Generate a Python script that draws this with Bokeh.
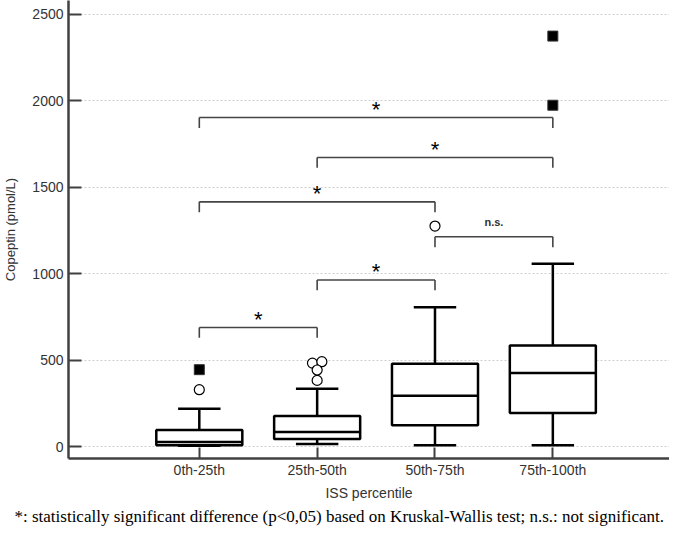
from bokeh.plotting import figure
from bokeh.models import Range1d, FixedTicker, ColumnDataSource, Title
from bokeh.core.properties import value
from bokeh.embed import file_html
from bokeh.resources import INLINE

# ---- data ----
categories = ["0th-25th", "25th-50th", "50th-75th", "75th-100th"]
lower_whisker = [5, 15, 8, 8]
q1 = [8, 44, 123, 194]
median = [27, 85, 294, 425]
q3 = [96, 177, 479, 585]
upper_whisker = [219, 335, 806, 1058]

circle_cat = [1, 2, 2, 2, 2, 3]
circle_jitter = [0.0, -0.04, 0.04, 0.0, 0.0, 0.0]
circle_val = [329, 483, 491, 443, 383, 1276]

square_cat = [1, 4, 4]
square_val = [445, 1975, 2375]

bracket_from = [1, 2, 3, 1, 2, 1]
bracket_to = [2, 3, 4, 3, 4, 4]
bracket_y = [689, 964, 1214, 1416, 1673, 1904]
bracket_label = ["*", "*", "n.s.", "*", "*", "*"]

y_ticks = [0, 500, 1000, 1500, 2000, 2500]

caption = ("*: statistically significant difference (p<0,05) based on "
           "Kruskal-Wallis test; n.s.: not significant.")

# ---- styles ----
BOX_W = 0.73
CAP_W = 0.36
LEG = 60
FONT = "Liberation Sans"
AX = "#404040"

pos = list(range(1, len(categories) + 1))

p = figure(width=669, height=526, x_range=Range1d(-0.11, 4.99),
           y_range=Range1d(-69, 2581), output_backend="svg",
           toolbar_location=None, min_border_left=68, min_border_right=0,
           min_border_top=0, min_border_bottom=67)
p.title.visible = False
p.outline_line_color = None
p.background_fill_color = "white"

# grid
p.xgrid.grid_line_color = None
p.ygrid.grid_line_color = "#cfcfcf"
p.ygrid.grid_line_dash = "2 2"
p.ygrid.grid_line_width = 1

# axes
for ax in (p.xaxis[0], p.yaxis[0]):
    ax.axis_line_color = AX
    ax.axis_line_width = 2.5
    ax.major_tick_line_color = AX
    ax.major_tick_line_width = 2
    ax.major_tick_out = 0
    ax.minor_tick_line_color = None
    ax.major_label_text_font = FONT
    ax.major_label_text_font_size = "14px"
    ax.major_label_text_color = "#333333"
    ax.axis_label_text_font = FONT
    ax.axis_label_text_font_style = "normal"
    ax.axis_label_text_color = "#333333"

p.yaxis.ticker = FixedTicker(ticks=y_ticks)
p.yaxis.major_tick_in = 13
p.yaxis.major_label_standoff = 5
p.yaxis.axis_label = "Copeptin (pmol/L)"
p.yaxis.axis_label_text_font_size = "13px"
p.yaxis.axis_label_standoff = 11

p.xaxis.ticker = FixedTicker(ticks=pos)
p.xaxis.major_label_overrides = {x: c for x, c in zip(pos, categories)}
p.xaxis.major_tick_in = 11
p.xaxis.major_label_standoff = 3
p.xaxis.axis_label = "ISS percentile"
p.xaxis.axis_label_text_font_size = "14px"
p.xaxis.axis_label_standoff = 4

# whiskers
p.segment(x0=pos, y0=q3, x1=pos, y1=upper_whisker, line_color="black", line_width=2.5)
p.segment(x0=pos, y0=q1, x1=pos, y1=lower_whisker, line_color="black", line_width=2.5)
p.segment(x0=[x - CAP_W / 2 for x in pos], y0=upper_whisker,
          x1=[x + CAP_W / 2 for x in pos], y1=upper_whisker, line_color="black", line_width=2.5)
p.segment(x0=[x - CAP_W / 2 for x in pos], y0=lower_whisker,
          x1=[x + CAP_W / 2 for x in pos], y1=lower_whisker, line_color="black", line_width=2.5)

# boxes
p.vbar(x=pos, width=BOX_W, bottom=q1, top=q3, fill_color="white",
       line_color="black", line_width=2.5)
p.segment(x0=[x - BOX_W / 2 for x in pos], y0=median,
          x1=[x + BOX_W / 2 for x in pos], y1=median, line_color="black", line_width=2.5)

# outliers
p.scatter(x=[c + j for c, j in zip(circle_cat, circle_jitter)], y=circle_val,
          marker="circle", size=10, fill_color="white", line_color="black", line_width=1.2)
p.scatter(x=square_cat, y=square_val, marker="square", size=10,
          fill_color="black", line_color="#333333", line_width=1)

# brackets
BR = "#444444"
p.segment(x0=bracket_from, y0=bracket_y, x1=bracket_to, y1=bracket_y,
          line_color=BR, line_width=1.6)
p.segment(x0=bracket_from, y0=bracket_y, x1=bracket_from,
          y1=[y - LEG for y in bracket_y], line_color=BR, line_width=1.6)
p.segment(x0=bracket_to, y0=bracket_y, x1=bracket_to,
          y1=[y - LEG for y in bracket_y], line_color=BR, line_width=1.6)

star_src = ColumnDataSource(dict(
    x=[(a + b) / 2 for a, b, l in zip(bracket_from, bracket_to, bracket_label) if l == "*"],
    y=[y for y, l in zip(bracket_y, bracket_label) if l == "*"],
    t=[l for l in bracket_label if l == "*"]))
ns_src = ColumnDataSource(dict(
    x=[(a + b) / 2 for a, b, l in zip(bracket_from, bracket_to, bracket_label) if l != "*"],
    y=[y for y, l in zip(bracket_y, bracket_label) if l != "*"],
    t=[l for l in bracket_label if l != "*"]))
p.text(x="x", y="y", text="t", source=star_src, text_align="center",
       text_baseline="alphabetic", y_offset=-8, text_font=value(FONT),
       text_font_size="22px", text_color="black")
p.text(x="x", y="y", text="t", source=ns_src, text_align="center",
       text_baseline="alphabetic", y_offset=-15, text_font=value(FONT),
       text_font_size="11px", text_font_style="bold", text_color="#333333")

p.add_layout(Title(text=caption, align="left", offset=-54, text_font="Liberation Serif",
                   text_font_size="17px", text_font_style="normal",
                   text_color="black", standoff=2), "below")

open("out.html", "w").write(file_html(p, INLINE))
